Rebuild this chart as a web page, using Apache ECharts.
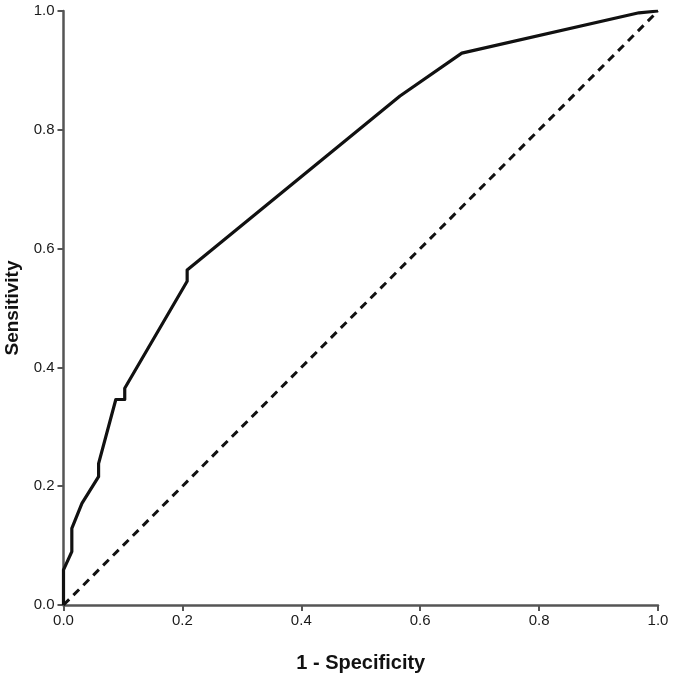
<!DOCTYPE html>
<html>
<head>
<meta charset="utf-8">
<script src="https://cdn.jsdelivr.net/npm/echarts@6/dist/echarts.min.js"></script>
<style>
html,body{margin:0;padding:0;background:#fff;}
#chart{width:675px;height:679px;}
</style>
</head>
<body>
<div id="chart"></div>
<script>
// ROC curve points (1 - Specificity, Sensitivity)
const fpr = [0, 0, 0.014, 0.014, 0.031, 0.059, 0.059, 0.088, 0.103, 0.103, 0.208, 0.208, 0.566, 0.670, 0.968, 1.0];
const tpr = [0, 0.059, 0.090, 0.129, 0.171, 0.216, 0.238, 0.346, 0.346, 0.365, 0.545, 0.564, 0.857, 0.929, 0.997, 1.0];
// Reference line
const refX = [0, 1];
const refY = [0, 1];
const xTitle = '1 - Specificity';
const yTitle = 'Sensitivity';

const rocData = fpr.map((x, i) => [x, tpr[i]]);
const refData = refX.map((x, i) => [x, refY[i]]);
const font = 'Arial, "Liberation Sans", sans-serif';

const chart = echarts.init(document.getElementById('chart'));
chart.setOption({
  animation: false,
  backgroundColor: '#ffffff',
  grid: { left: 63.5, right: 17, top: 11, bottom: 74, containLabel: false, outerBoundsMode: 'none' },
  xAxis: {
    type: 'value', min: 0, max: 1, interval: 0.2,
    name: xTitle, nameLocation: 'middle', nameGap: 48,
    nameTextStyle: { fontFamily: font, fontSize: 20, fontWeight: 'bold', color: '#111' },
    axisLine: { show: true, onZero: false, lineStyle: { color: '#555', width: 2.5 } },
    axisTick: { show: true, length: 6, lineStyle: { color: '#555', width: 2 } },
    axisLabel: { fontFamily: font, fontSize: 15, color: '#1a1a1a', margin: 8, formatter: v => v.toFixed(1) },
    splitLine: { show: false }
  },
  yAxis: {
    type: 'value', min: 0, max: 1, interval: 0.2,
    name: yTitle, nameLocation: 'middle', nameGap: 34,
    nameTextStyle: { fontFamily: font, fontSize: 19, fontWeight: 'bold', color: '#111' },
    axisLine: { show: true, onZero: false, lineStyle: { color: '#555', width: 2.5 } },
    axisTick: { show: true, length: 6, lineStyle: { color: '#555', width: 2 } },
    axisLabel: { fontFamily: font, fontSize: 15, color: '#1a1a1a', margin: 9, formatter: v => v.toFixed(1) },
    splitLine: { show: false }
  },
  series: [
    {
      type: 'line', data: refData, symbol: 'none', silent: true,
      lineStyle: { color: '#111', width: 3, type: [8, 6] }
    },
    {
      type: 'line', data: rocData, symbol: 'none', silent: true,
      lineStyle: { color: '#111', width: 3.2, join: 'round' }
    }
  ]
});
</script>
</body>
</html>
